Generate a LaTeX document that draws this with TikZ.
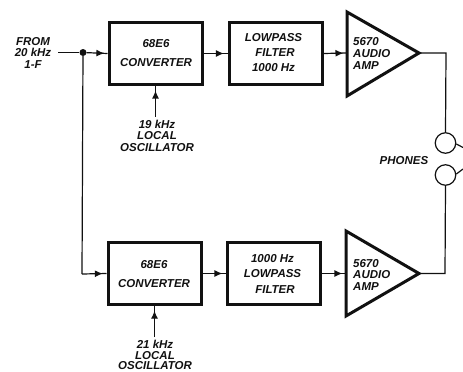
\documentclass[tikz,border=0pt]{standalone}
\usepackage{fontspec}
\setmainfont{Liberation Sans}
\usetikzlibrary{arrows.meta,decorations.markings}
\definecolor{ink}{HTML}{111111}
\tikzset{
  wire/.style={draw=ink,line width=1.2pt},
  headat/.style={postaction={decorate},decoration={markings,mark=at position #1 with {\arrow[ink]{Latex[length=8pt,width=7pt]}}}},
  block/.style={draw=ink,line width=3pt,fill=white,minimum width=93pt,minimum height=62pt,inner sep=0pt},
  amptri/.style={draw=ink,line width=3pt,line join=miter,fill=white},
  txt/.style={text=ink,font=\bfseries\itshape\fontsize{11.5}{#1}\selectfont,align=center,inner sep=0pt},
  txtl/.style={text=ink,font=\bfseries\itshape\fontsize{11.5}{#1}\selectfont,align=left,inner sep=0pt},
  phone/.style={circle,draw=ink,line width=1.2pt,minimum size=20.5pt,inner sep=0pt},
  dot/.style={circle,fill=ink,minimum size=7pt,inner sep=0pt}
}
\begin{document}
\begin{tikzpicture}[x=1pt,y=-1pt]
\useasboundingbox (0,0) rectangle (463,372);
\fill[white] (0,0) rectangle (463,372);
% blocks
\node[block] (c1) at (155.5,53.5) {};
\node[block] (f1) at (275.5,53.5) {};
\node[block] (c2) at (154.5,273.5) {};
\node[block] (f2) at (274,273.5) {};
% amplifiers
\coordinate (a1t) at (347,12); \coordinate (a1b) at (347,96); \coordinate (a1o) at (419,53); \coordinate (a1i) at (347,53);
\coordinate (a2t) at (346,231); \coordinate (a2b) at (346,316); \coordinate (a2o) at (419,273.5); \coordinate (a2i) at (346,273.5);
\draw[amptri] (a1t) -- (a1o) -- (a1b) -- cycle;
\draw[amptri] (a2t) -- (a2o) -- (a2b) -- cycle;
% phones
\node[phone] (p1) at (445.5,143) {};
\node[phone] (p2) at (445.5,175) {};
\coordinate (p1e) at (463,147.5);
\coordinate (p2e) at (463,169);
\draw[wire] (p1.-5) -- (p1e);
\draw[wire] (p2.5) -- (p2e);
% input
\node[txt=11.5pt] (in) at (33,52.5) {FROM\\20 kHz\\1-F};
\node[dot] (j) at (83,52.5) {};
\coordinate (k) at (82,274);
\draw[wire] (58,52.5) coordinate (ins) -- (j);
\draw[wire,headat=0.85] (j) -- (c1.west);
\draw[wire] (j) -- (k);
\draw[wire,headat=0.85] (k) -- (c2.west);
% chain
\draw[wire,headat=0.85] (c1.east) -- (f1.west);
\draw[wire,headat=0.85] (f1.east) -- (a1i);
\draw[wire,headat=0.85] (c2.east) -- (f2.west);
\draw[wire,headat=0.85] (f2.east) -- (a2i);
% oscillators
\node[txt=11.5pt] (o1) at (157,135.5) {19 kHz\\LOCAL\\OSCILLATOR};
\node[txt=10.5pt] (o2) at (155,355) {21 kHz\\LOCAL\\OSCILLATOR};
\draw[wire,headat=0.85] (o1.north -| c1.south) ++(0,-3) coordinate (o1s) -- (c1.south);
\draw[wire,headat=0.85] (o2.north -| c2.south) ++(0,-3) coordinate (o2s) -- (c2.south);
% outputs
\coordinate (b1) at (446,53);
\coordinate (b2) at (445,273.5);
\draw[wire] (a1o) -- (b1) -- (p1.north);
\draw[wire] (a2o) -- (b2) -- (p2.south);
% labels
\node[txt=19.5pt] (c1t) at (156,53) {68E6\\CONVERTER};
\node[txt=19.5pt] (c2t) at (154,274) {68E6\\CONVERTER};
\node[txt=15pt] (f1t) at (273.5,52.5) {LOWPASS\\\hspace*{3pt}FILTER\\1000 Hz};
\node[txt=15.5pt] (f2t) at (272.5,273.5) {1000 Hz\\LOWPASS\\\hspace*{5pt}FILTER};
\node[txtl=12pt,anchor=west] (a1t2) at (353,53) {5670\\AUDIO\\AMP};
\node[txtl=11.5pt,anchor=west] (a2t2) at (353,274.5) {5670\\AUDIO\\AMP};
\node[txt=12pt] (ph) at (404,161) {PHONES};
\end{tikzpicture}
\end{document}
